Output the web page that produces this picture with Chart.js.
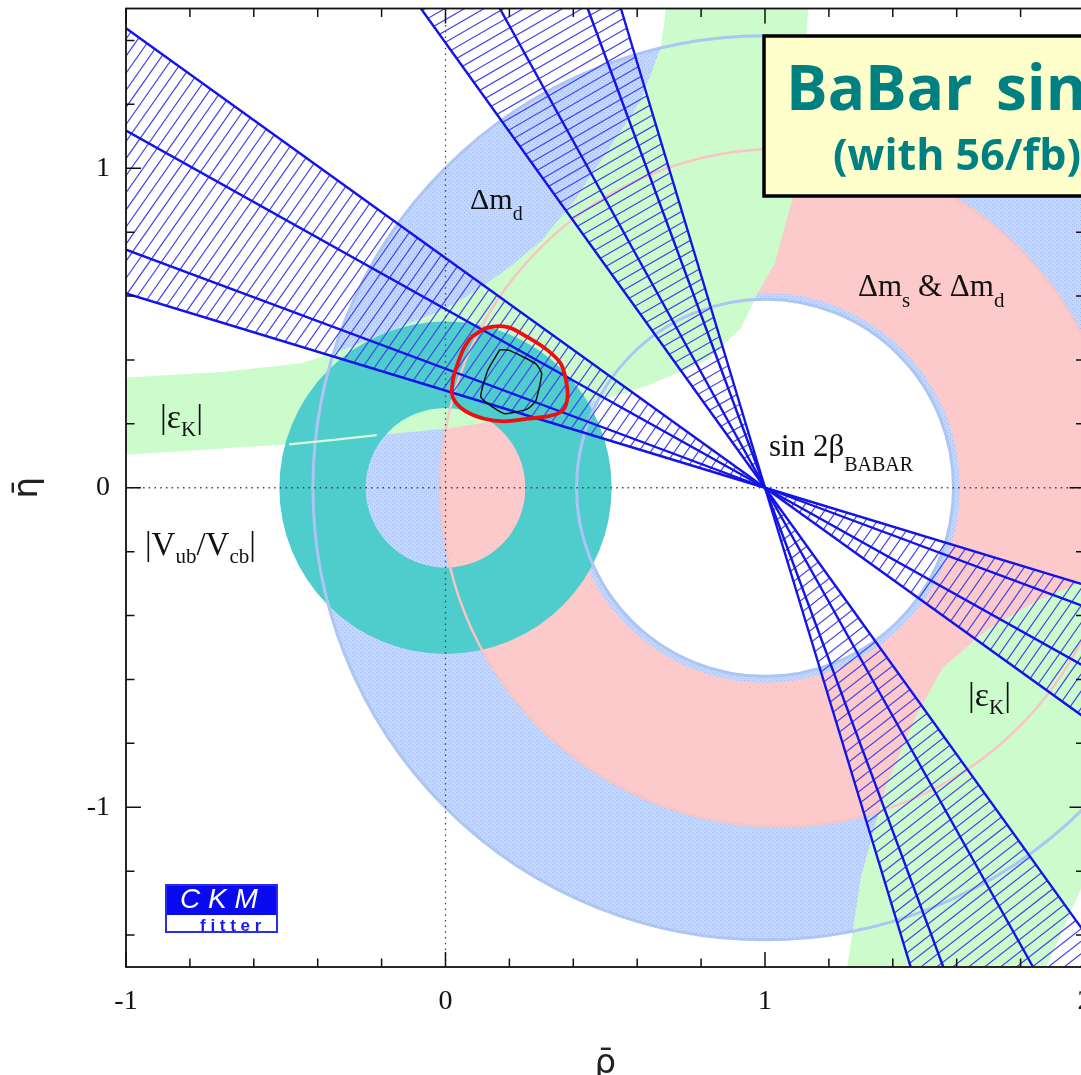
<!DOCTYPE html>
<html lang="en">
<head>
<meta charset="UTF-8">
<title>CKM fit - BaBar sin2beta</title>
<script src="https://cdn.jsdelivr.net/npm/chart.js@4.4.1/dist/chart.umd.min.js"></script>
<style>
  html, body { margin: 0; padding: 0; background: #fff; overflow: hidden; }
  #wrap { width: 1200px; height: 1075px; }
</style>
</head>
<body>
<div id="wrap"><canvas id="ckm" width="1200" height="1075"></canvas></div>
<script>
// axes
const rhoRange = [-1, 2];
const etaRange = [-1.5, 1.5];
const labelledTicks = [-1, 0, 1, 2];
const rhoTicks = [-1, -0.8, -0.6, -0.4, -0.2, 0, 0.2, 0.4, 0.6, 0.8, 1, 1.2, 1.4, 1.6, 1.8, 2];
const etaTicks = [-1.4, -1.2, -1, -0.8, -0.6, -0.4, -0.2, 0, 0.2, 0.4, 0.6, 0.8, 1, 1.2, 1.4];

// circular constraints: [centre rho, centre eta, radius]
const dmdInner = [1.0, 0.0, 0.59];
const dmdOuter = [1.0, 0.0, 1.415];
const dmsInner = [1.0, 0.0, 0.61];
const dmsOuter = [1.045, 0.0, 1.06];
const vubInner = [0.0, 0.0, 0.25];
const vubOuter = [0.0, 0.0, 0.52];

// |eps_K| band as [rho, eta]
const epsKLowerEdge = [[-1.0, 0.103], [-0.48, 0.137], [-0.22, 0.164], [0.0, 0.185], [0.2, 0.215], [0.4, 0.255],
  [0.56, 0.295], [0.645, 0.325], [0.82, 0.40], [0.925, 0.50], [0.975, 0.605], [1.03, 0.70], [1.09, 0.92],
  [1.115, 1.2], [1.135, 1.5]];
const epsKUpperEdge = [[0.69, 1.5], [0.674, 1.378], [0.611, 1.212], [0.507, 1.055], [0.403, 0.898], [0.30, 0.773],
  [0.2, 0.69], [0.1, 0.62], [0.0, 0.56], [-0.15, 0.50], [-0.3, 0.44], [-0.45, 0.39], [-0.7, 0.362], [-1.0, 0.345]];
const epsKLowerRight = [[1.257, -1.5], [1.30, -1.22], [1.38, -0.93], [1.47, -0.72], [1.556, -0.563], [1.70, -0.44],
  [1.85, -0.355], [2.0, -0.29], [2.0, -1.23], [1.88, -1.5]];
const epsKEdgeInVub = [[-0.49, 0.136], [-0.35, 0.15], [-0.215, 0.165]];

// sin2beta wedges: lines from the apex to the frame (outer pair = 2 sigma, inner pair = 1 sigma)
const sin2bApex = [1, 0];
const sin2bLeft = [[-1, 1.438], [-1, 1.118], [-1, 0.745], [-1, 0.608]];
const sin2bUp = [[-0.077, 1.5], [0.170, 1.5], [0.445, 1.5], [0.549, 1.5]];
const sin2bRight = [[2, -0.719], [2, -0.559], [2, -0.372], [2, -0.304]];
const sin2bDown = [[2.078, -1.5], [1.839, -1.5], [1.558, -1.5], [1.456, -1.5]];

// global fit contours
const fitRed = [[0.080, 0.471], [0.132, 0.501], [0.195, 0.503], [0.257, 0.471], [0.320, 0.430], [0.361, 0.388],
  [0.377, 0.336], [0.382, 0.283], [0.367, 0.242], [0.330, 0.226], [0.257, 0.216], [0.184, 0.208], [0.121, 0.216],
  [0.059, 0.242], [0.023, 0.283], [0.023, 0.336], [0.038, 0.388], [0.059, 0.440]];
const fitBlack = [[0.170, 0.432], [0.200, 0.430], [0.283, 0.388], [0.301, 0.357], [0.283, 0.273], [0.257, 0.247],
  [0.184, 0.232], [0.111, 0.283], [0.132, 0.367]];

const toXY = pts => pts.map(p => ({ x: p[0], y: p[1] }));
const closed = pts => toXY(pts.concat([pts[0]]));

const wedgeColour = '#1414e6';
const datasets = [
  { data: closed(fitRed), borderColor: '#ee1010', borderWidth: 3.8, tension: 0.35 },
  { data: closed(fitBlack), borderColor: '#111', borderWidth: 1.5, tension: 0.15 },
];
[sin2bLeft, sin2bUp, sin2bRight, sin2bDown].forEach(group => {
  group.forEach(end => {
    datasets.push({ data: toXY([sin2bApex, end]), borderColor: wedgeColour, borderWidth: 2.4 });
  });
});
datasets.push({ data: toXY(epsKEdgeInVub), borderColor: '#d8f8d8', borderWidth: 2.2 });
datasets.push({ data: toXY([[0, etaRange[0]], [0, etaRange[1]]]), borderColor: '#444', borderWidth: 1.3, borderDash: [1.5, 4.2] });
datasets.push({ data: toXY([[rhoRange[0], 0], [rhoRange[1], 0]]), borderColor: '#444', borderWidth: 1.3, borderDash: [1.5, 4.2] });
datasets.forEach(d => { d.showLine = true; d.pointRadius = 0; d.fill = false; });

let bluePat, pinkPat;
function stipple(ctx, base, dot, size, dots) {
  const c = document.createElement('canvas');
  c.width = c.height = size;
  const g = c.getContext('2d');
  g.fillStyle = base;
  g.fillRect(0, 0, size, size);
  g.fillStyle = dot;
  dots.forEach(([i, j]) => g.fillRect(i, j, 1, 1));
  return ctx.createPattern(c, 'repeat');
}

function circlePath(ctx, x, y, c) {
  const cx = x.getPixelForValue(c[0]), cy = y.getPixelForValue(c[1]);
  const rx = x.getPixelForValue(c[0] + c[2]) - cx, ry = cy - y.getPixelForValue(c[1] + c[2]);
  ctx.moveTo(cx + rx, cy);
  ctx.ellipse(cx, cy, rx, ry, 0, 0, Math.PI * 2);
}

function annulus(ctx, x, y, inner, outer, fill) {
  ctx.beginPath();
  circlePath(ctx, x, y, outer);
  circlePath(ctx, x, y, inner);
  ctx.fillStyle = fill;
  ctx.fill('evenodd');
}

function ring(ctx, x, y, c, colour, w) {
  ctx.beginPath();
  circlePath(ctx, x, y, c);
  ctx.strokeStyle = colour;
  ctx.lineWidth = w;
  ctx.stroke();
}

function polyPath(ctx, pts) {
  ctx.beginPath();
  pts.forEach((p, i) => i ? ctx.lineTo(p[0], p[1]) : ctx.moveTo(p[0], p[1]));
  ctx.closePath();
}

function hatch(ctx, pts, angle, gap) {
  ctx.save();
  polyPath(ctx, pts);
  ctx.clip();
  ctx.translate(pts[0][0], pts[0][1]);
  ctx.rotate(-angle * Math.PI / 180);
  ctx.beginPath();
  for (let d = -1800; d <= 1800; d += gap) {
    ctx.moveTo(-1800, d);
    ctx.lineTo(1800, d);
  }
  ctx.strokeStyle = '#4444f4';
  ctx.lineWidth = 1.2;
  ctx.stroke();
  ctx.restore();
}

const regionsPlugin = {
  id: 'regions',
  beforeDatasetsDraw(chart) {
    const { ctx, chartArea: a, scales: { x, y } } = chart;
    const P = p => [x.getPixelForValue(p[0]), y.getPixelForValue(p[1])];
    if (!bluePat) {
      bluePat = stipple(ctx, '#c4d7f9', '#a4bcef', 4, [[0, 0], [2, 2]]);
      pinkPat = stipple(ctx, '#fccaca', '#e2c0c8', 9, [[2, 3]]);
    }
    ctx.save();
    ctx.beginPath();
    ctx.rect(a.left, a.top, a.right - a.left, a.bottom - a.top);
    ctx.clip();

    annulus(ctx, x, y, dmdInner, dmdOuter, bluePat);
    annulus(ctx, x, y, dmsInner, dmsOuter, pinkPat);

    ctx.fillStyle = '#ccfbcc';
    polyPath(ctx, epsKLowerEdge.concat(epsKUpperEdge).map(P));
    ctx.fill();
    polyPath(ctx, epsKLowerRight.map(P));
    ctx.fill();

    annulus(ctx, x, y, vubInner, vubOuter, '#4ecdcc');

    ring(ctx, x, y, dmdInner, '#adc5f2', 3);
    ring(ctx, x, y, dmdOuter, '#adc5f2', 3);
    ring(ctx, x, y, dmsOuter, '#f9c4c4', 2.5);

    const apex = P(sin2bApex);
    hatch(ctx, [apex, P(sin2bLeft[0]), P(sin2bLeft[3])], 55, 9.8);
    hatch(ctx, [apex, P(sin2bUp[0]), P(sin2bUp[3])], 30, 9.8);
    hatch(ctx, [apex, P(sin2bRight[0]), P(sin2bRight[3])], 55, 9.8);
    hatch(ctx, [apex, P(sin2bDown[0]), P(sin2bDown[3])], 38, 9.8);
    ctx.restore();
  }
};

function rich(ctx, x, y, parts) {
  parts.forEach(([txt, size, dy]) => {
    ctx.font = size + 'px "Liberation Serif"';
    ctx.fillText(txt, x, y + dy);
    x += ctx.measureText(txt).width;
  });
}

const overlayPlugin = {
  id: 'overlay',
  afterDraw(chart) {
    const { ctx, chartArea: a, scales: { x, y } } = chart;
    ctx.save();
    // labels of the constraints
    ctx.fillStyle = '#111';
    ctx.textBaseline = 'alphabetic';
    ctx.textAlign = 'left';
    rich(ctx, 470, 209, [['Δm', 30, 0], ['d', 20, 11]]);
    rich(ctx, 858, 296, [['Δm', 31, 0], ['s', 21, 11], [' & Δm', 31, 0], ['d', 21, 11]]);
    rich(ctx, 769, 456, [['sin 2β', 31, 0], ['BABAR', 20, 15]]);
    rich(ctx, 160, 428, [['|ε', 34, 0], ['K', 21, 8], ['|', 34, 0]]);
    rich(ctx, 968, 706, [['|ε', 34, 0], ['K', 21, 8], ['|', 34, 0]]);
    rich(ctx, 145, 555, [['|V', 33, 0], ['ub', 21, 8], ['/V', 33, 0], ['cb', 21, 8], ['|', 33, 0]]);

    // frame and inward ticks
    ctx.strokeStyle = '#111';
    ctx.lineWidth = 1.8;
    ctx.strokeRect(a.left, a.top, a.right - a.left, a.bottom - a.top);
    ctx.lineWidth = 1.5;
    ctx.beginPath();
    x.ticks.forEach(t => {
      const p = x.getPixelForValue(t.value), L = labelledTicks.includes(t.value) ? 15 : 8.5;
      ctx.moveTo(p, a.bottom); ctx.lineTo(p, a.bottom - L);
      ctx.moveTo(p, a.top); ctx.lineTo(p, a.top + L);
    });
    y.ticks.forEach(t => {
      const p = y.getPixelForValue(t.value), L = labelledTicks.includes(t.value) ? 15 : 8.5;
      ctx.moveTo(a.left, p); ctx.lineTo(a.left + L, p);
      ctx.moveTo(a.right, p); ctx.lineTo(a.right - L, p);
    });
    ctx.stroke();

    // title box
    ctx.fillStyle = '#ffffcc';
    ctx.fillRect(764, 36, 500, 160);
    ctx.strokeStyle = '#000';
    ctx.lineWidth = 3.5;
    ctx.strokeRect(764, 36, 500, 160);
    ctx.fillStyle = '#008080';
    ctx.font = 'bold 62px "Open Sans"';
    ctx.fillText('BaBar', 786, 110);
    ctx.fillText('sin2β', 996, 110);
    ctx.font = 'bold 43px "Open Sans"';
    ctx.fillText('(with 56/fb)', 833, 170);

    // CKMfitter logo
    ctx.fillStyle = '#0a0af0';
    ctx.fillRect(165, 884, 113, 31);
    ctx.fillStyle = '#fff';
    ctx.fillRect(165, 915, 113, 18);
    ctx.strokeStyle = '#2a2af0';
    ctx.lineWidth = 2;
    ctx.strokeRect(166, 885, 111, 47);
    ctx.fillStyle = '#fff';
    ctx.font = 'italic 28px "Liberation Sans"';
    ctx.fillText('C K M', 180, 908);
    ctx.fillStyle = '#1a1af0';
    ctx.font = 'bold 17px "Liberation Sans"';
    ctx.fillText('f i t t e r', 200, 931);
    ctx.restore();
  }
};

const tickFont = { family: '"Liberation Serif"', size: 28 };
new Chart(document.getElementById('ckm'), {
  type: 'scatter',
  data: { datasets },
  options: {
    responsive: false,
    animation: false,
    devicePixelRatio: 1,
    layout: { padding: { top: 8.5, right: 115.5, left: 0, bottom: 0 } },
    plugins: { legend: { display: false }, tooltip: { enabled: false } },
    scales: {
      x: {
        type: 'linear', min: rhoRange[0], max: rhoRange[1],
        afterBuildTicks: s => { s.ticks = rhoTicks.map(v => ({ value: v })); },
        afterFit: s => { s.height = 108; s.paddingLeft = 0; s.paddingRight = 0; },
        grid: { display: false, drawTicks: false },
        border: { display: false },
        ticks: { autoSkip: false, maxRotation: 0, padding: 18, color: '#111', font: tickFont,
          callback: v => labelledTicks.includes(v) ? String(v) : '' },
        title: { display: true, text: 'ρ̄', color: '#222', font: { family: '"DejaVu Sans"', size: 34 }, padding: { top: 0, bottom: -10 } }
      },
      y: {
        type: 'linear', min: etaRange[0], max: etaRange[1],
        afterBuildTicks: s => { s.ticks = etaTicks.map(v => ({ value: v })); },
        afterFit: s => { s.width = 126; s.paddingTop = 0; s.paddingBottom = 0; },
        grid: { display: false, drawTicks: false },
        border: { display: false },
        ticks: { autoSkip: false, padding: 16, color: '#111', font: tickFont,
          callback: v => labelledTicks.includes(v) ? String(v) : '' },
        title: { display: true, text: 'η̄', color: '#222', font: { family: '"DejaVu Sans"', size: 34 }, padding: { top: 8, bottom: 0 } }
      }
    }
  },
  plugins: [regionsPlugin, overlayPlugin]
});
</script>
</body>
</html>
